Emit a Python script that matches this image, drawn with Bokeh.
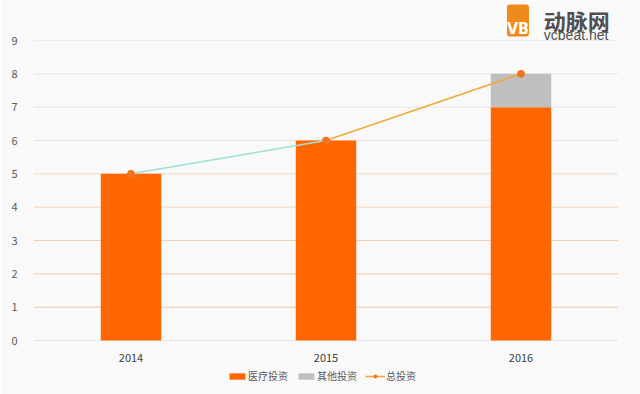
from bokeh.plotting import figure
from bokeh.models import (ColumnDataSource, FactorRange, Range1d, FixedTicker, Span,
                          Legend, LegendItem, Label, BoxAnnotation)
from bokeh.embed import file_html
from bokeh.resources import INLINE

# ---- data ----
years = ["2014", "2015", "2016"]
medical = [5, 6, 7]        # 医疗投资
other = [0, 0, 1]          # 其他投资
total = [5, 6, 8]          # 总投资
y_ticks = [0, 1, 2, 3, 4, 5, 6, 7, 8, 9]

# ---- styles ----
grid_colors = ["#e4e4e4", "#efc7a2", "#efcaa6", "#f0d0b2", "#f0d6be",
               "#efdcc9", "#ede1d4", "#ebe4dc", "#e8e6e2", "#ededed"]
seg_colors = ["#9edfd6", "#eeac3a"]
BG = "#f9f9f9"
FONT = "Noto Sans CJK SC"

p = figure(width=640, height=394, output_backend="svg", toolbar_location=None,
           x_range=FactorRange(*years, range_padding=0),
           y_range=Range1d(-1.62, 10.2),
           min_border_left=33, min_border_right=22, min_border_top=0,
           min_border_bottom=0)
p.background_fill_color = BG
p.border_fill_color = BG
p.outline_line_color = None

src = ColumnDataSource(dict(years=years, medical=medical, other=other, total=total))
bars = p.vbar_stack(["medical", "other"], x="years", width=0.31, source=src,
                    color=["#ff6600", "#bfbfbf"], line_color=None)

# gridlines
p.xgrid.grid_line_color = None
p.ygrid.grid_line_color = None
for t, c in zip(y_ticks, grid_colors):
    p.add_layout(Span(location=t, dimension="width", line_color=c, line_width=1,
                      level="underlay"))

# total line, drawn segment by segment
seg_renderers = []
for i in range(len(years) - 1):
    r = p.line(x=[years[i], years[i + 1]], y=[total[i], total[i + 1]],
               line_color=seg_colors[i], line_width=1.6)
    seg_renderers.append(r)
dots = p.scatter(x="years", y="total", source=src, size=7, fill_color="#f07424",
                 line_color="#f07424")

# axes
p.yaxis.ticker = FixedTicker(ticks=y_ticks)
for ax in (p.xaxis[0], p.yaxis[0]):
    ax.axis_line_color = None
    ax.major_tick_line_color = None
    ax.minor_tick_line_color = None
    ax.major_label_text_font = FONT
    ax.major_label_text_font_size = "11px"
    ax.major_label_text_color = "#595959"
p.yaxis.major_label_standoff = 10
p.xaxis.major_label_standoff = 7
p.xaxis.major_label_text_color = "#404040"
p.xaxis.fixed_location = 0

# legend
legend = Legend(items=[
    LegendItem(label="医疗投资", renderers=[bars[0]]),
    LegendItem(label="其他投资", renderers=[bars[1]]),
    LegendItem(label="总投资", renderers=[seg_renderers[1], dots]),
], orientation="horizontal", location=(194, 11))
legend.background_fill_alpha = 0
legend.border_line_color = None
legend.label_text_font = FONT
legend.label_text_font_size = "10px"
legend.label_text_color = "#595959"
legend.glyph_width = 20
legend.glyph_height = 8
legend.label_standoff = 1
legend.spacing = 8
legend.padding = 0
legend.margin = 0
p.add_layout(legend, "center")

# logo (decoration)
p.add_layout(BoxAnnotation(left=2.428, right=2.541, bottom=9.12, top=10.08,
                           fill_color="#f08a1c", fill_alpha=1, line_color=None,
                           border_radius=3))
p.add_layout(Label(x=2.4845, y=9.35, text="VB", text_color="white",
                   text_font="DejaVu Sans Condensed", text_font_size="16px",
                   text_font_style="bold",
                   text_align="center", text_baseline="alphabetic"))
p.add_layout(Label(x=2.617, y=9.63, text="动脉网", text_color="#505050",
                   text_font=FONT, text_font_size="22px", text_font_style="bold",
                   text_baseline="alphabetic"))
p.add_layout(Label(x=2.617, y=9.18, text="vcbeat.net", text_color="#505050",
                   text_font="Liberation Sans", text_font_size="14px",
                   text_baseline="alphabetic"))

open("out.html", "w").write(file_html(p, INLINE))
